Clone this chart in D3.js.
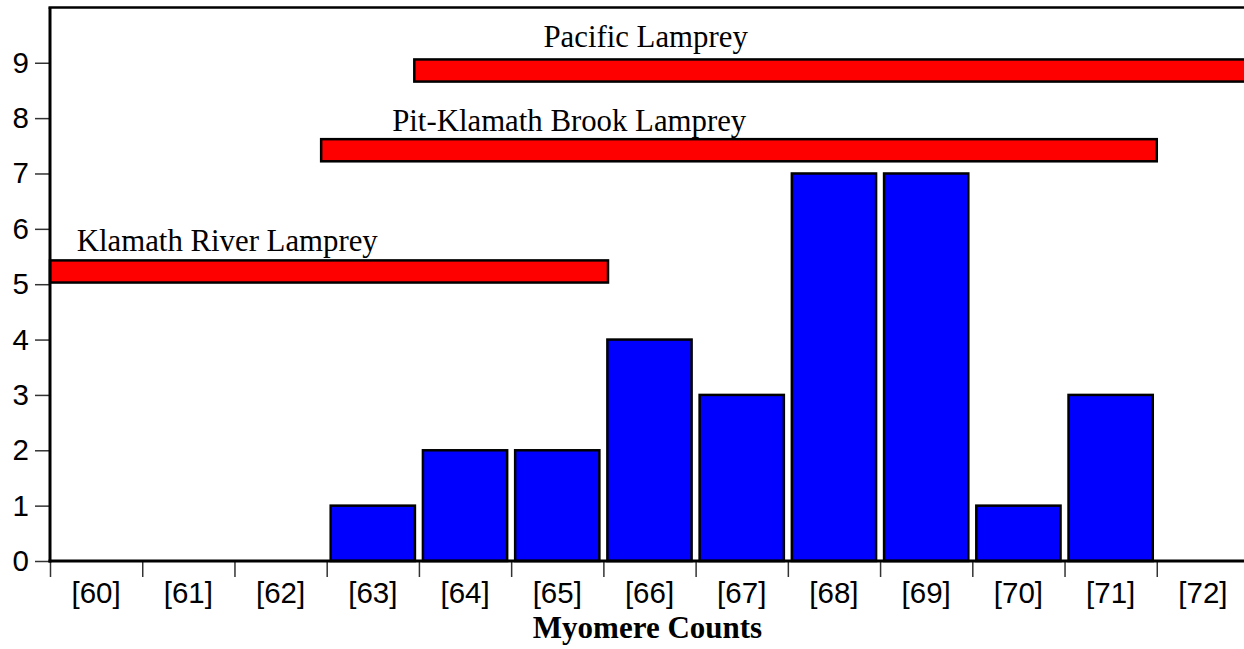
<!DOCTYPE html>
<html>
<head>
<meta charset="utf-8">
<script src="https://cdn.jsdelivr.net/npm/d3@7"></script>
<style>
  html, body { margin: 0; padding: 0; background: #fff; }
  svg { display: block; }
</style>
</head>
<body>
<div id="chart"></div>
<script>
// ---- data ----
const categories = ["60","61","62","63","64","65","66","67","68","69","70","71","72"];
const counts     = [0, 0, 0, 1, 2, 2, 4, 3, 7, 7, 1, 3, 0];
const yTicks     = [0,1,2,3,4,5,6,7,8,9];

// range bars for species (myomere count ranges), drawn at a y level
const speciesNames  = ["Pacific Lamprey", "Pit-Klamath Brook Lamprey", "Klamath River Lamprey"];
const speciesStart  = [63.45, 62.44, 59.5];
const speciesEnd    = [73.2, 71.5, 65.55];
const speciesLevel  = [8.86, 7.42, 5.23];
const labelStart    = [64.85, 63.21, 59.79];
const labelLevel    = [9.29, 7.76, 5.6];

// ---- layout ----
const W = 1244, H = 649;
const mLeft = 50, mRight = 1249, mBottom = 561, mTop = 7.4;

const svg = d3.select("#chart").append("svg")
  .attr("width", W).attr("height", H);

const xBand = d3.scaleBand().domain(categories).range([mLeft, mRight]).padding(0);
const xLin  = d3.scaleLinear().domain([59.5, 72.5]).range([mLeft, mRight]);
const y     = d3.scaleLinear().domain([0, 10]).range([mBottom, mTop]);

// histogram bars
svg.append("g").selectAll("rect")
  .data(categories.map((c, i) => ({c, v: counts[i]})).filter(d => d.v > 0))
  .join("rect")
  .attr("x", d => xBand(d.c) + 4)
  .attr("width", xBand.bandwidth() - 8)
  .attr("y", d => y(d.v))
  .attr("height", d => y(0) - y(d.v))
  .attr("fill", "#0000ff")
  .attr("stroke", "#000")
  .attr("stroke-width", 2.5);

// species range bars
const half = 0.2;
svg.append("g").selectAll("rect")
  .data(speciesNames.map((n, i) => ({n, s: speciesStart[i], e: speciesEnd[i], l: speciesLevel[i]})))
  .join("rect")
  .attr("x", d => xLin(d.s))
  .attr("width", d => xLin(d.e) - xLin(d.s))
  .attr("y", d => y(d.l + half))
  .attr("height", d => y(d.l - half) - y(d.l + half))
  .attr("fill", "#ff0000")
  .attr("stroke", "#000")
  .attr("stroke-width", 2.5);

// species labels
svg.append("g").selectAll("text")
  .data(speciesNames.map((n, i) => ({n, x: labelStart[i], l: labelLevel[i]})))
  .join("text")
  .attr("x", d => xLin(d.x))
  .attr("y", d => y(d.l))
  .attr("font-family", "'Liberation Serif', 'Times New Roman', serif")
  .attr("font-size", 30.8)
  .attr("fill", "#000")
  .text(d => d.n);

// y axis
const yAxis = svg.append("g")
  .attr("transform", `translate(${mLeft},0)`)
  .call(d3.axisLeft(y).tickValues(yTicks).tickSize(15).tickPadding(6).tickFormat(d3.format("d")));
yAxis.select(".domain").remove();
yAxis.selectAll(".tick line").attr("stroke", "#333").attr("stroke-width", 1.5);
yAxis.selectAll(".tick text")
  .attr("font-family", "'Liberation Sans', Arial, Helvetica, sans-serif")
  .attr("font-size", 29.5).attr("fill", "#000");

// x axis ticks at band boundaries
const boundaries = categories.map(c => xBand(c));
const xTicksG = svg.append("g")
  .attr("transform", `translate(0,${mBottom})`)
  .call(d3.axisBottom(d3.scaleIdentity()).tickValues(boundaries).tickSize(16).tickFormat(""));
xTicksG.select(".domain").remove();
xTicksG.selectAll(".tick line").attr("stroke", "#333").attr("stroke-width", 1.5);

// x axis labels at band centres
const xLab = svg.append("g")
  .attr("transform", `translate(0,${mBottom})`)
  .call(d3.axisBottom(xBand).tickSize(0).tickPadding(21).tickFormat(d => `[${d}]`));
xLab.select(".domain").remove();
xLab.selectAll(".tick text")
  .attr("font-family", "'Liberation Sans', Arial, Helvetica, sans-serif")
  .attr("font-size", 29.5).attr("fill", "#000");

// frame lines: left axis, bottom axis, top border
svg.append("line").attr("x1", mLeft).attr("x2", mLeft).attr("y1", y(10)).attr("y2", y(0) + 1.5)
  .attr("stroke", "#000").attr("stroke-width", 3);
svg.append("line").attr("x1", mLeft - 1.5).attr("x2", W).attr("y1", y(0)).attr("y2", y(0))
  .attr("stroke", "#000").attr("stroke-width", 3);
svg.append("line").attr("x1", mLeft - 1.5).attr("x2", W).attr("y1", y(10)).attr("y2", y(10))
  .attr("stroke", "#000").attr("stroke-width", 2.5);

// x axis title
svg.append("text")
  .attr("x", (xLin(59.5) + xLin(72.5)) / 2 - 2)
  .attr("y", 638)
  .attr("text-anchor", "middle")
  .attr("font-family", "'Liberation Serif', 'Times New Roman', serif")
  .attr("font-weight", "bold")
  .attr("font-size", 31)
  .attr("fill", "#000")
  .text("Myomere Counts");
</script>
</body>
</html>
